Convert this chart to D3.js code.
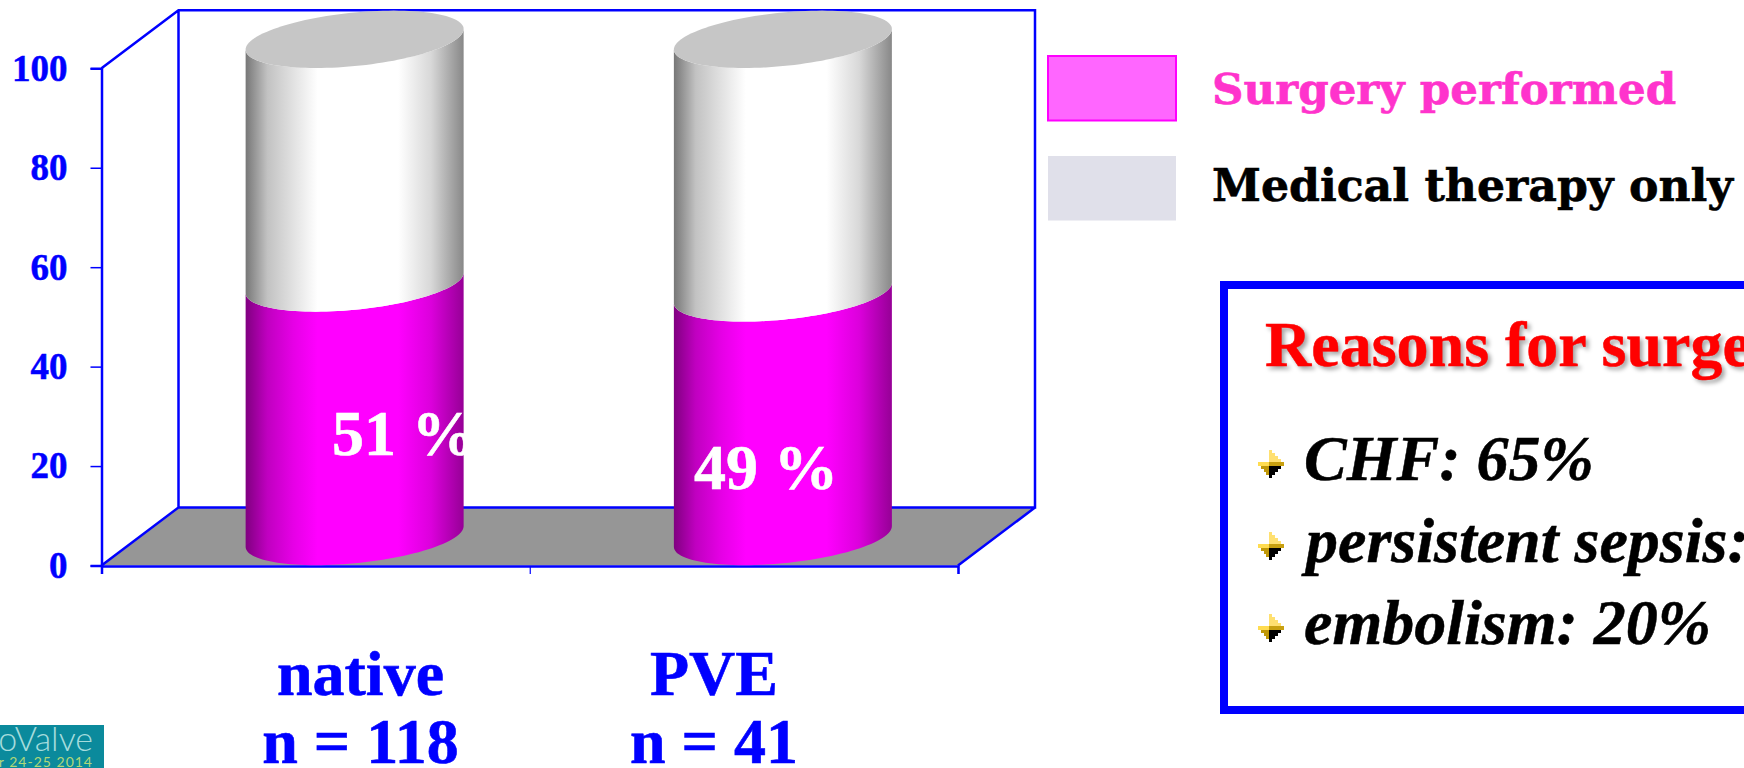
<!DOCTYPE html>
<html>
<head>
<meta charset="utf-8">
<script src="https://cdn.jsdelivr.net/npm/d3@7/dist/d3.min.js"></script>
<style>
  html, body { margin: 0; padding: 0; background: #fff; overflow: hidden; }
  svg { display: block; }
  text { font-family: "Liberation Serif", serif; }
</style>
</head>
<body>
<svg id="chart" width="1744" height="768"></svg>
<script>
// Stacked cylinders: share of patients treated surgically vs. medically
const categories = ["native", "PVE"];
const cohortSizes = ["n = 118", "n = 41"];
const surgeryPerformed = [51, 49];
const medicalOnly = [49, 51];
const yTicks = [0, 20, 40, 60, 80, 100];
const legendLabels = ["Surgery performed", "Medical therapy only"];
const reasonsTitle = "Reasons for surgery";
const reasons = ["CHF: 65%", "persistent sepsis:", "embolism: 20%"];

const svg = d3.select("#chart");
const defs = svg.append("defs");

// Plot frame and oblique depth of the 3D box
const frame = { left: 101.5, right: 958, top: 68.3, bottom: 565.5 };
const depth = { x: 77, y: 58 };

const y = d3.scaleLinear().domain([0, 100]).range([frame.bottom, frame.top]);
const x = d3.scaleBand().domain(categories).range([frame.left, frame.right]);

const BLUE = "#0000ff";

function shadeGradient(id, stops) {
  const g = defs.append("linearGradient").attr("id", id)
    .attr("x1", 0).attr("x2", 1).attr("y1", 0).attr("y2", 0);
  stops.forEach(([o, c]) => g.append("stop").attr("offset", o).attr("stop-color", c));
}
shadeGradient("shadeMedical", [
  [0, "#777777"], [0.1, "#c2c2c2"], [0.22, "#e2e2e2"], [0.33, "#ffffff"],
  [0.7, "#ffffff"], [0.85, "#d8d8d8"], [1, "#888888"]
]);
shadeGradient("shadeSurgery", [
  [0, "#800080"], [0.1, "#c000c0"], [0.22, "#e600e6"], [0.33, "#ff00ff"],
  [0.7, "#ff00ff"], [0.85, "#dc00dc"], [1, "#960096"]
]);

// Floor and walls
const back = { l: frame.left + depth.x, r: frame.right + depth.x, t: frame.top - depth.y, b: frame.bottom - depth.y };

svg.append("polygon")
  .attr("points", [[frame.left, frame.bottom], [back.l, back.b], [back.r, back.b], [frame.right, frame.bottom]].join(" "))
  .attr("fill", "#969696");

svg.append("path")
  .attr("d", `M${frame.left},${frame.top}L${back.l},${back.t}L${back.r},${back.t}L${back.r},${back.b}L${back.l},${back.b}` +
             `M${back.l},${back.t}L${back.l},${back.b}L${frame.left},${frame.bottom}` +
             `M${back.r},${back.b}L${frame.right},${frame.bottom}`)
  .attr("fill", "none").attr("stroke", BLUE).attr("stroke-width", 2.5);

// Axes
const yAxis = svg.append("g").attr("transform", `translate(${frame.left},0)`)
  .call(d3.axisLeft(y).tickValues(yTicks).tickSize(11).tickPadding(23));
yAxis.selectAll("path").attr("stroke", BLUE).attr("stroke-width", 2.5);
yAxis.selectAll("line").attr("stroke", BLUE).attr("stroke-width", 1.5);
yAxis.selectAll("text").attr("fill", BLUE).attr("stroke", BLUE).attr("stroke-width", 0.5)
  .style("font-family", '"Liberation Serif", serif')
  .style("font-size", "37px").style("font-weight", "bold");

const xAxisScale = d3.scalePoint().domain(["a", "b", "c"]).range([frame.left, frame.right]);
const xAxis = svg.append("g").attr("transform", `translate(0,${frame.bottom + 0.5})`)
  .call(d3.axisBottom(xAxisScale).tickSize(8).tickFormat(""));
xAxis.selectAll("path").attr("stroke", BLUE).attr("stroke-width", 2.5);
xAxis.selectAll("line").attr("stroke", BLUE).attr("stroke-width", 1.2);

// Cylinders: each cross-section is a sheared ellipse centred half the depth behind the front plane
const radius = 109, minor = 26.8, shear = -10.3;
const centerX = i => x(categories[i]) + x.bandwidth() / 2 + depth.x / 2 + 0.5;
const centerY = v => y(v) - depth.y / 2;
const ellipsePoint = (cx, cy, t) => [
  cx + radius * Math.cos(t),
  cy + minor * Math.sin(t) + shear * Math.cos(t)
];
const angles = d3.range(0, 121).map(k => k * Math.PI / 60);
const frontAngles = angles.filter(t => t <= Math.PI + 1e-6);
const curve = d3.line();

function sidePath(i, v0, v1) {
  const cx = centerX(i);
  const lower = frontAngles.map(t => ellipsePoint(cx, centerY(v0), t));
  const upper = frontAngles.slice().reverse().map(t => ellipsePoint(cx, centerY(v1), t));
  return curve(lower.concat(upper)) + "Z";
}

categories.forEach((c, i) => {
  const s = surgeryPerformed[i], m = medicalOnly[i];
  svg.append("path").attr("d", sidePath(i, 0, s)).attr("fill", "url(#shadeSurgery)");
  svg.append("path").attr("d", sidePath(i, s, s + m)).attr("fill", "url(#shadeMedical)");
  svg.append("path")
    .attr("d", curve(angles.map(t => ellipsePoint(centerX(i), centerY(s + m), t))) + "Z")
    .attr("fill", "#c6c6c6");
});

// Value labels on the surgery segments
const valueLabels = [
  { i: 0, x: 332, y: 454.5 },
  { i: 1, x: 694, y: 489 }
];
valueLabels.forEach(d => {
  svg.append("text").attr("x", d.x).attr("y", d.y)
    .attr("fill", "#fff").attr("stroke", "#fff").attr("stroke-width", 0.6)
    .attr("font-size", 64).attr("font-weight", "bold")
    .text(`${surgeryPerformed[d.i]} %`);
});

// Category captions
const captionCenters = [360.5, 714];
[[categories, 695], [cohortSizes, 763]].forEach(([labels, base]) => {
  labels.forEach((t, i) => {
    svg.append("text").attr("x", captionCenters[i]).attr("y", base)
      .attr("text-anchor", "middle").attr("fill", BLUE).attr("stroke", BLUE).attr("stroke-width", 0.6)
      .attr("font-size", 64).attr("font-weight", "bold").text(t);
  });
});

// Legend
const legendStyles = [
  { fill: "#ff66ff", stroke: "#ff00ff", text: "#ff33cc", top: 56, base: 104, size: 43.6 },
  { fill: "#e0e0ea", stroke: "none", text: "#000000", top: 156, base: 200.5, size: 44.2 }
];
legendLabels.forEach((label, i) => {
  const st = legendStyles[i];
  svg.append("rect").attr("x", 1048).attr("y", st.top).attr("width", 128).attr("height", 64.5)
    .attr("fill", st.fill).attr("stroke", st.stroke).attr("stroke-width", 2);
  svg.append("text").attr("x", 1212).attr("y", st.base)
    .attr("fill", st.text).attr("stroke", st.text).attr("stroke-width", 0.6)
    .attr("font-size", st.size).attr("font-weight", "bold")
    .style("font-family", '"DejaVu Serif", serif')
    .text(label);
});

// Reasons panel, running off the right edge of the page
svg.append("rect").attr("x", 1224).attr("y", 285).attr("width", 600).attr("height", 425)
  .attr("fill", "#fff").attr("stroke", BLUE).attr("stroke-width", 8);

svg.append("text").attr("x", 1265).attr("y", 366)
  .attr("fill", "#ff0000").attr("stroke", "#ff0000").attr("stroke-width", 0.5)
  .attr("font-size", 64).attr("font-weight", "bold")
  .style("filter", "drop-shadow(3px 3px 2px rgba(0,0,0,0.35))")
  .text(reasonsTitle);

const reasonBaselines = [480, 561.5, 643.5];
const reasonStarts = [1304, 1306, 1304];
function bullet(gx, gy) {
  const g = svg.append("g").attr("transform", `translate(${gx},${gy})`).attr("shape-rendering", "crispEdges");
  // upper facet
  [[-13, 3, 3], [-10, 3, 6], [-7, 3, 9], [-4, 3, 12]].forEach(([ry, h, w]) =>
    g.append("rect").attr("x", 0).attr("y", ry).attr("width", w).attr("height", h).attr("fill", "#ffe070"));
  // horizontal band
  g.append("rect").attr("x", -11).attr("y", -1).attr("width", 11).attr("height", 4).attr("fill", "#ffdc50");
  g.append("rect").attr("x", 0).attr("y", -1).attr("width", 15).attr("height", 4).attr("fill", "#c8a010");
  // lower facets
  [[3, 3, 8, 12], [6, 3, 5, 9], [9, 3, 3, 6], [12, 3, 0, 3]].forEach(([ry, h, wl, wr]) => {
    g.append("rect").attr("x", -wl).attr("y", ry).attr("width", wl).attr("height", h).attr("fill", "#c09808");
    g.append("rect").attr("x", 0).attr("y", ry).attr("width", wr).attr("height", h).attr("fill", "#000");
  });
}
reasons.forEach((r, i) => {
  bullet(1269, reasonBaselines[i] - 17);
  svg.append("text").attr("x", reasonStarts[i]).attr("y", reasonBaselines[i])
    .attr("fill", "#000").attr("stroke", "#000").attr("stroke-width", 0.5)
    .attr("font-size", 64).attr("font-weight", "bold").attr("font-style", "italic")
    .text(r);
});

// Conference badge in the lower corner
svg.append("rect").attr("x", 0).attr("y", 725).attr("width", 104).attr("height", 43).attr("fill", "#0b8a9c");
svg.append("text").attr("x", 93).attr("y", 751).attr("text-anchor", "end")
  .attr("fill", "#a5dcdc").attr("font-size", 34).attr("font-weight", 300)
  .style("font-family", "Lato, sans-serif").text("oValve");
svg.append("text").attr("x", 93).attr("y", 766.5).attr("text-anchor", "end")
  .attr("fill", "#b0d878").attr("font-size", 14).attr("font-weight", 400)
  .style("font-family", "Lato, sans-serif").style("letter-spacing", "1px").text("er 24-25 2014");
</script>
</body>
</html>
